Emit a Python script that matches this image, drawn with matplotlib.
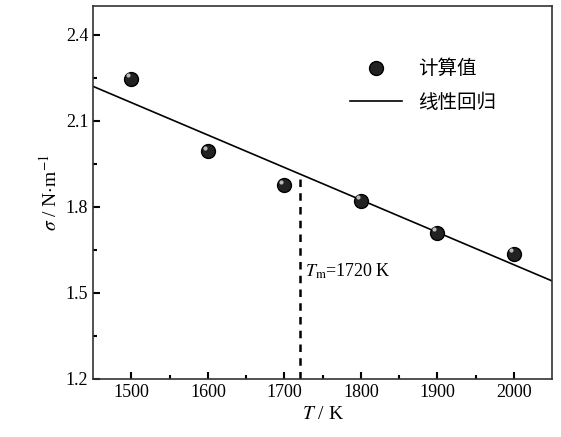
import matplotlib.pyplot as plt
import numpy as np

plt.rcParams['font.family'] = ['Liberation Serif', 'Noto Sans CJK SC', 'DejaVu Sans']
plt.rcParams['mathtext.fontset'] = 'stix'

## data
T = np.array([1500, 1600, 1700, 1800, 1900, 2000])
sigma = np.array([2.247, 1.994, 1.876, 1.821, 1.710, 1.637])
Tm = 1720
xticks = [1500, 1600, 1700, 1800, 1900, 2000]
yticks = [1.2, 1.5, 1.8, 2.1, 2.4]

# linear fit
k, b = np.polyfit(T, sigma, 1)
xfit = np.array([1450, 2050])

fig = plt.figure(figsize=(5.61, 4.37), dpi=100)
ax = fig.add_axes([0.166, 0.133, 0.818, 0.853])

ax.plot(xfit, k * xfit + b, color='black', lw=1.2, label='线性回归')
ax.plot(T, sigma, 'o', ms=10, mfc='#222222', mec='black', label='计算值', zorder=3)
# small highlight to look like a ball
ax.plot(T - 4, sigma + 0.012, 'o', ms=3, mfc='#bbbbbb', mec='none', zorder=4)
ax.plot([Tm, Tm], [1.2, k * Tm + b], '--', color='black', lw=1.8, dashes=(3, 2.5))
ax.text(1727, 1.555, r'$T_{\rm m}$=1720 K', fontsize=13)

ax.set_xlim(1450, 2050)
ax.set_ylim(1.2, 2.5)
ax.set_xticks(xticks)
ax.set_yticks(yticks)
ax.set_yticklabels([f'{v:.1f}' for v in yticks])
ax.set_xticks(np.arange(1550, 2050, 100), minor=True)
ax.set_yticks(np.arange(1.35, 2.5, 0.3), minor=True)
ax.tick_params(direction='in', length=5, width=1.5, labelsize=13)
ax.tick_params(which='minor', direction='in', length=3, width=1.5)
for s in ax.spines.values():
    s.set_linewidth(1.2)
    s.set_color('#333333')

ax.set_xlabel(r'$T$ / K', fontsize=14)
ax.set_ylabel(r'$\sigma$ / N$\cdot$m$^{-1}$', fontsize=14)

h, l = ax.get_legend_handles_labels()
ax.legend([h[1], h[0]], [l[1], l[0]], loc='upper left', bbox_to_anchor=(0.538, 0.886),
          frameon=False, borderpad=0, labelspacing=0.65, handlelength=2.7, handletextpad=0.8,
          prop={'family': ['Noto Sans CJK SC'], 'size': 14})

fig.savefig('out.png', dpi=100)
